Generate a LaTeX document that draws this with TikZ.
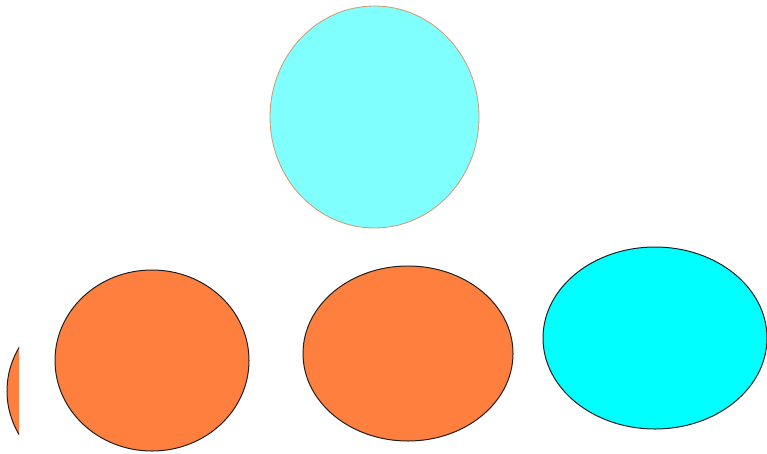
\documentclass[tikz,border=0pt]{standalone}
\usetikzlibrary{shapes.geometric}
\definecolor{lightcyan}{HTML}{80FFFF}
\definecolor{tanline}{HTML}{D09870}
\definecolor{orangefill}{HTML}{FF7F3F}
\definecolor{cyanfill}{HTML}{00FFFF}
\definecolor{darkline}{HTML}{202020}
\tikzset{
  blob/.style={ellipse, inner sep=0pt, outer sep=0pt, line width=1pt},
  orangeblob/.style={blob, draw=darkline, fill=orangefill},
  cyanblob/.style={blob, draw=darkline, fill=cyanfill},
  topblob/.style={blob, draw=tanline, fill=lightcyan, line width=0.8pt}
}
\begin{document}
\begin{tikzpicture}[x=1pt,y=-1pt]
\useasboundingbox (0,0) rectangle (767,453);
\fill[white] (0,0) rectangle (767,453);
\node[topblob, minimum width=209pt, minimum height=222pt] (top) at (374.5,117) {};
\begin{scope}
  \clip (0,0) rectangle (19,453);
  \node[orangeblob, minimum width=194pt, minimum height=180pt] (part) at (104,391) {};
\end{scope}
\node[orangeblob, minimum width=194pt, minimum height=181pt] (o1) at (152,360.5) {};
\node[orangeblob, minimum width=210pt, minimum height=175pt] (o2) at (408,353.5) {};
\node[cyanblob, minimum width=224pt, minimum height=182pt] (c1) at (655,338) {};
\end{tikzpicture}
\end{document}
